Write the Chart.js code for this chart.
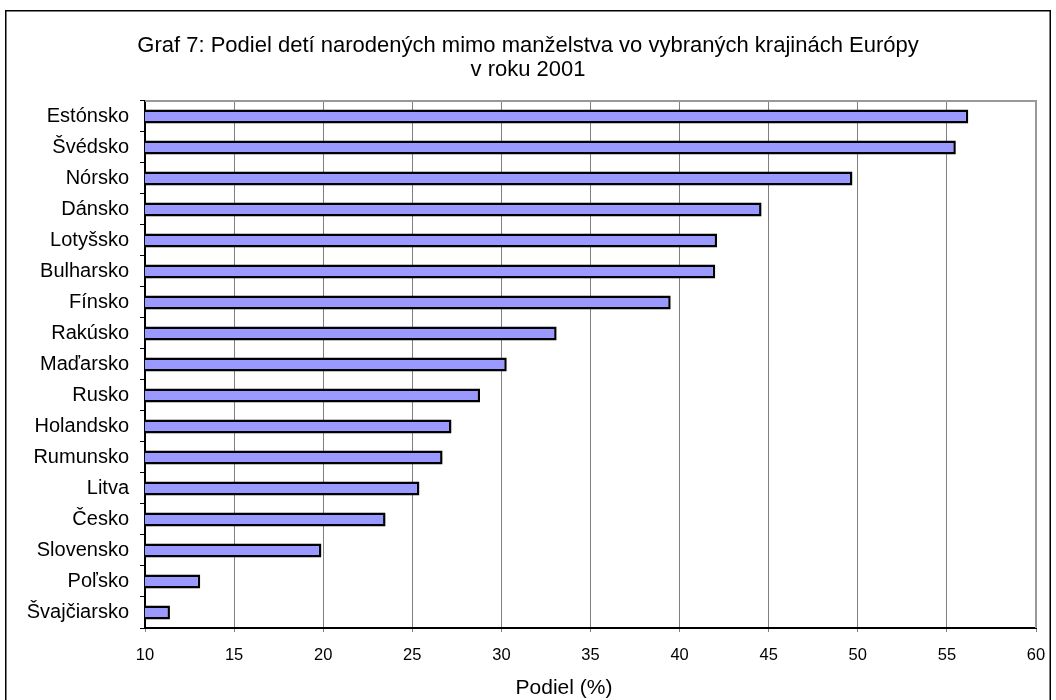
<!DOCTYPE html>
<html>
<head>
<meta charset="utf-8">
<script src="https://cdn.jsdelivr.net/npm/chart.js@4.4.0/dist/chart.umd.min.js"></script>
<style>
  html, body { margin: 0; padding: 0; background: #fff; }
  #wrap { width: 1056px; height: 700px; position: relative; }
</style>
</head>
<body>
<div id="wrap"><canvas id="c" width="1056" height="700"></canvas></div>
<script>
const titleLines = ['Graf 7: Podiel detí narodených mimo manželstva vo vybraných krajinách Európy', 'v roku 2001'];
const countries = ['Estónsko', 'Švédsko', 'Nórsko', 'Dánsko', 'Lotyšsko', 'Bulharsko', 'Fínsko', 'Rakúsko', 'Maďarsko', 'Rusko', 'Holandsko', 'Rumunsko', 'Litva', 'Česko', 'Slovensko', 'Poľsko', 'Švajčiarsko'];
const shares = [56.2, 55.5, 49.7, 44.6, 42.1, 42.0, 39.5, 33.1, 30.3, 28.8, 27.2, 26.7, 25.4, 23.5, 19.9, 13.1, 11.4];
const xTicks = [10, 15, 20, 25, 30, 35, 40, 45, 50, 55, 60];
const xTitle = 'Podiel (%)';

const FONT = '"Liberation Sans", Arial, sans-serif';

const framePlugin = {
  id: 'frame',
  beforeDraw(chart) {
    const ctx = chart.ctx;
    ctx.save();
    ctx.fillStyle = '#fff';
    ctx.fillRect(0, 0, chart.width, chart.height);
    ctx.strokeStyle = '#000';
    ctx.lineWidth = 1.5;
    ctx.strokeRect(5.75, 10.75, 1044.5, 760);
    ctx.restore();
  },
  beforeDatasetsDraw(chart) {
    const a = chart.chartArea;
    const ctx = chart.ctx;
    ctx.save();
    ctx.strokeStyle = '#999999';
    ctx.lineWidth = 2;
    ctx.beginPath();
    ctx.moveTo(a.left, a.top);
    ctx.lineTo(a.right, a.top);
    ctx.lineTo(a.right, a.bottom);
    ctx.stroke();
    ctx.restore();
  },
  afterDraw(chart) {
    const ctx = chart.ctx;
    ctx.save();
    ctx.fillStyle = '#000';
    ctx.font = '21px ' + FONT;
    ctx.textAlign = 'center';
    ctx.textBaseline = 'middle';
    ctx.fillText(xTitle, 564, 688);
    ctx.restore();
  }
};

new Chart(document.getElementById('c'), {
  type: 'bar',
  data: {
    labels: countries,
    datasets: [{
      data: shares,
      backgroundColor: '#9999FF',
      borderColor: '#000',
      borderWidth: 2.5,
      borderSkipped: false,
      barPercentage: 0.45,
      categoryPercentage: 1
    }]
  },
  options: {
    indexAxis: 'y',
    responsive: false,
    animation: false,
    devicePixelRatio: 1,
    layout: { padding: { left: 20, right: 20, top: 0, bottom: 0 } },
    plugins: {
      legend: { display: false },
      tooltip: { enabled: false },
      title: {
        display: true,
        text: titleLines,
        color: '#000',
        font: { family: FONT, size: 22, weight: 'normal', lineHeight: 1.09 },
        padding: { top: 34, bottom: 19 }
      }
    },
    scales: {
      x: {
        type: 'linear',
        position: 'bottom',
        min: 10,
        max: 60,
        afterBuildTicks(scale) { scale.ticks = xTicks.map(v => ({ value: v })); },
        afterFit(scale) {
          scale.height = 72;
          scale.paddingLeft = 0; scale.paddingRight = 0;
          scale.paddingTop = 0; scale.paddingBottom = 0;
        },
        ticks: {
          color: '#000',
          padding: 14,
          font: { family: FONT, size: 16.5 },
          maxRotation: 0
        },
        grid: { color: '#808080', lineWidth: 1, drawTicks: true, tickLength: 4 },
        border: { color: '#000', width: 2 }
      },
      y: {
        type: 'category',
        position: 'left',
        afterFit(scale) {
          scale.width = 125;
          scale.paddingLeft = 0; scale.paddingRight = 0;
          scale.paddingTop = 0; scale.paddingBottom = 0;
        },
        ticks: {
          color: '#000',
          padding: 11,
          font: { family: FONT, size: 20 },
          autoSkip: false
        },
        grid: { drawOnChartArea: false, drawTicks: true, tickLength: 5, color: '#000', offset: true },
        border: { color: '#000', width: 2 }
      }
    }
  },
  plugins: [framePlugin]
});
</script>
</body>
</html>
